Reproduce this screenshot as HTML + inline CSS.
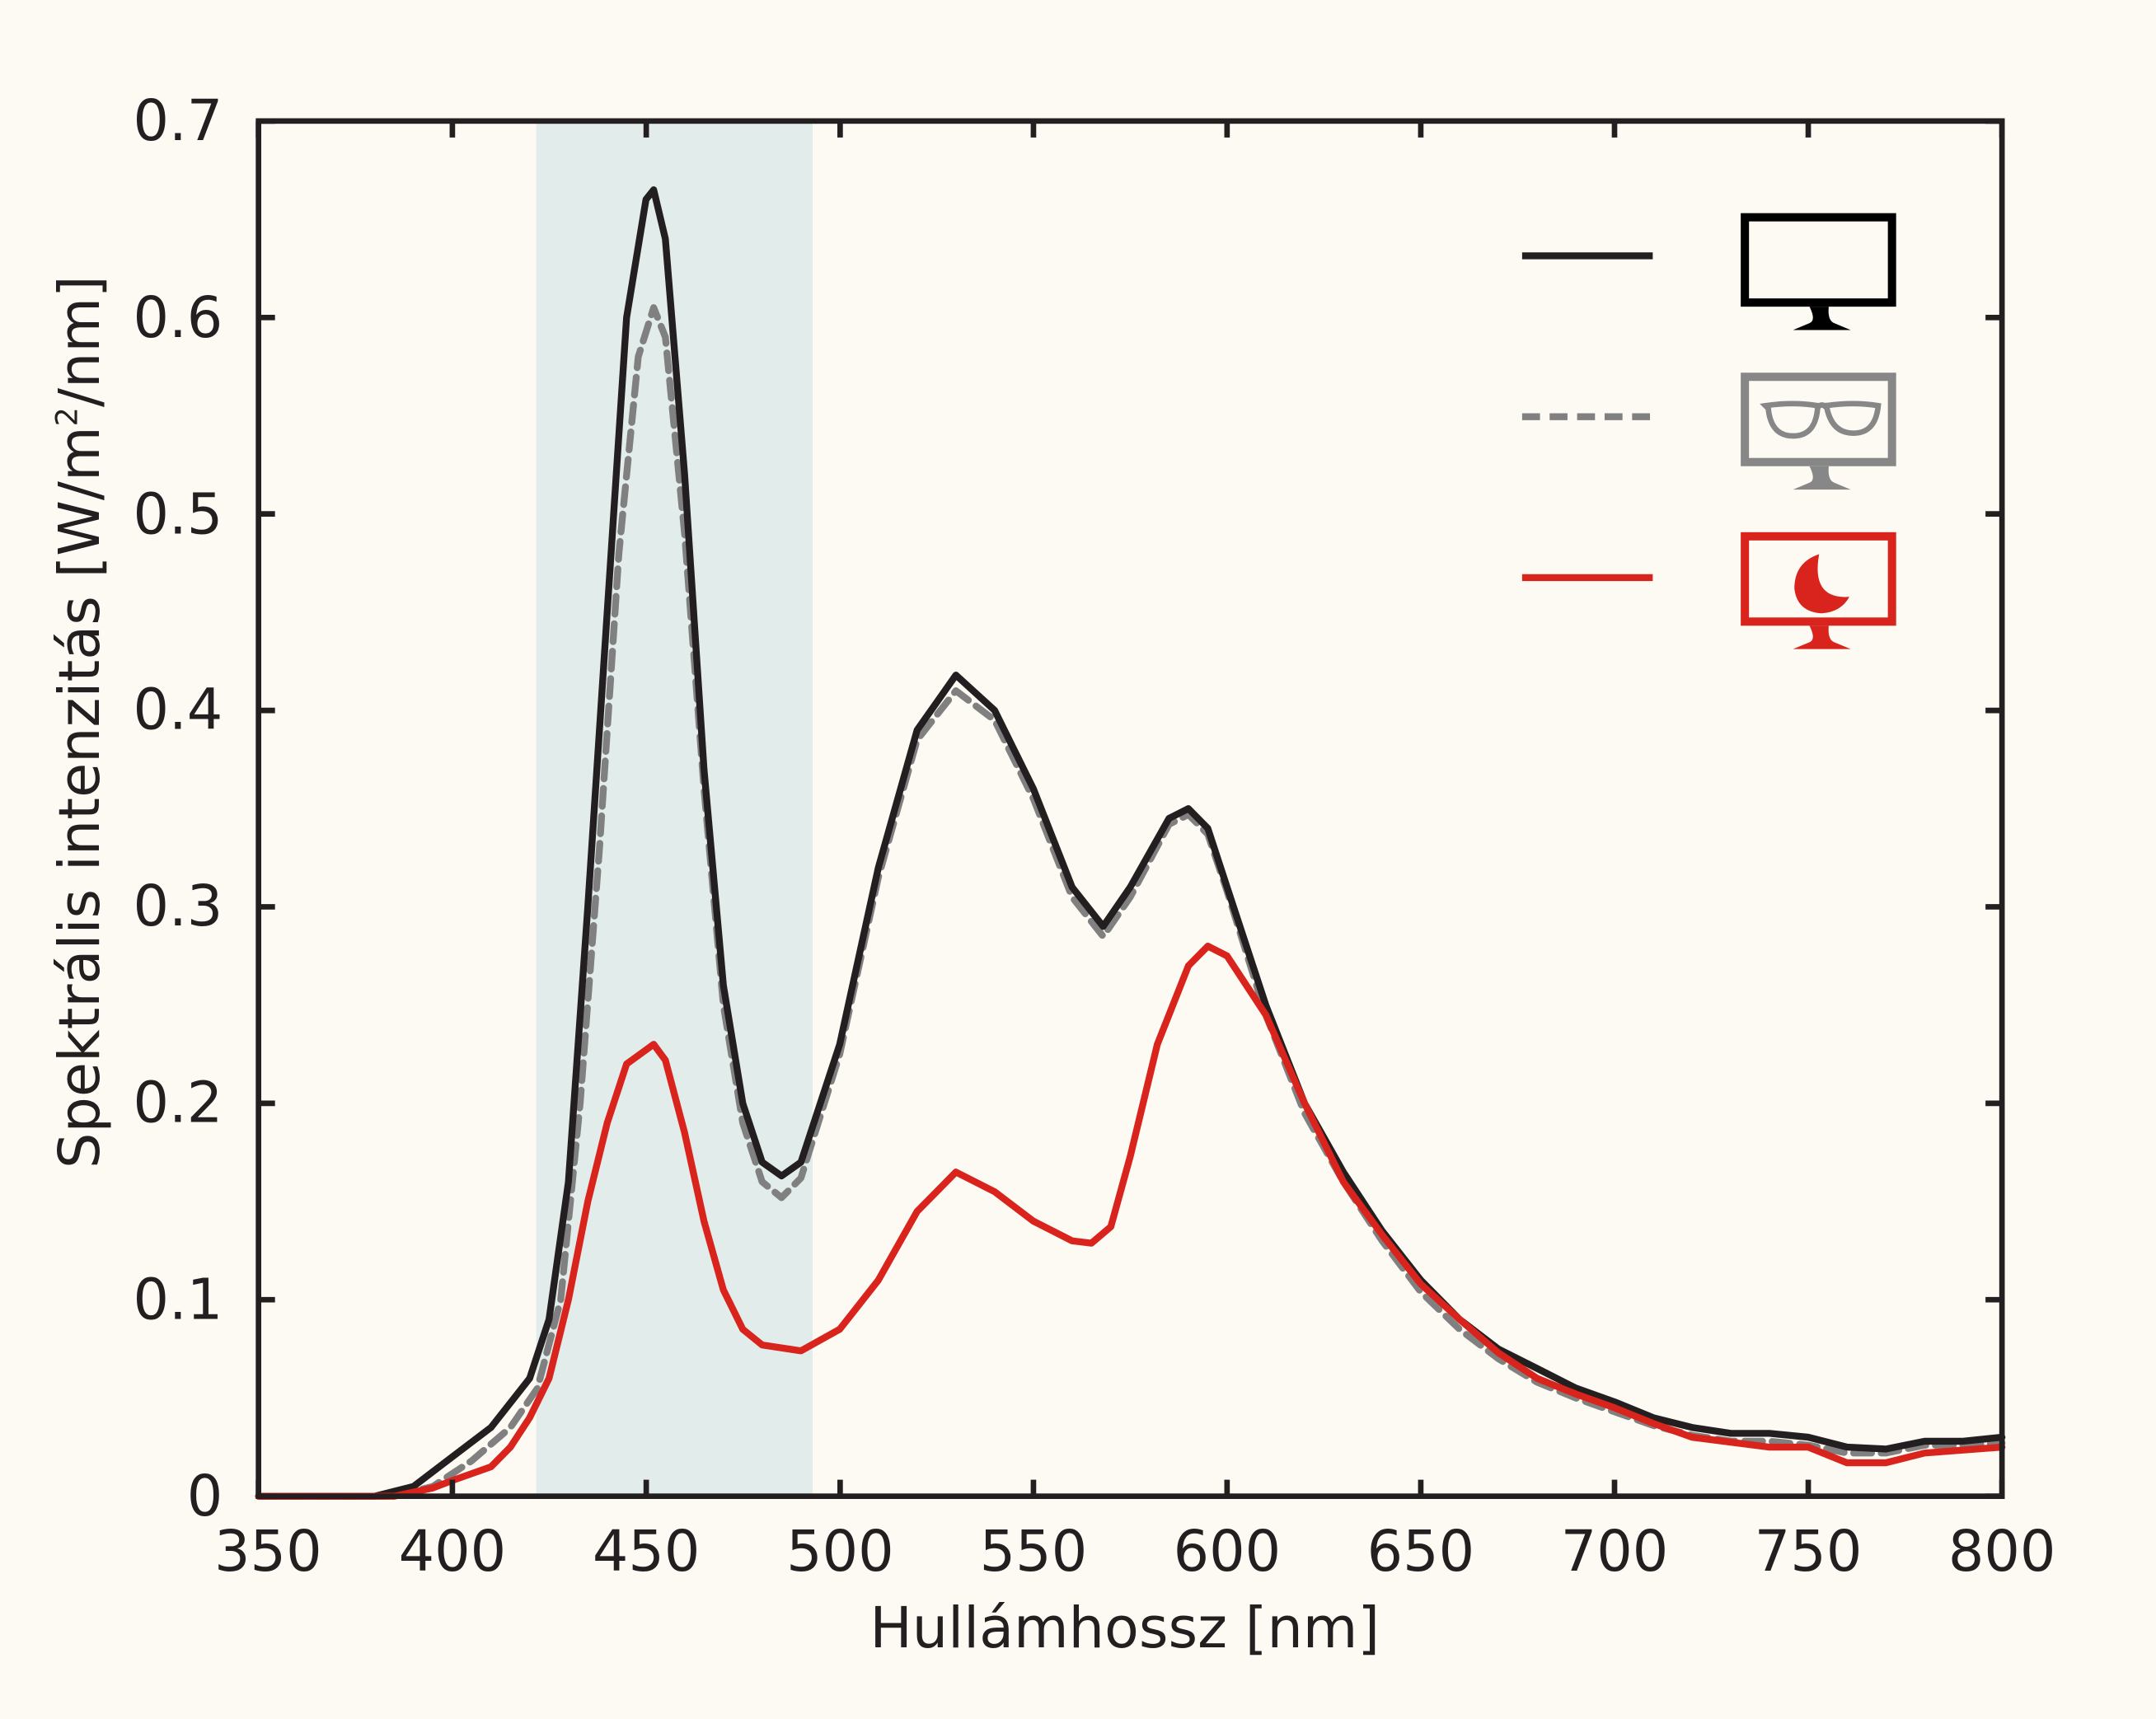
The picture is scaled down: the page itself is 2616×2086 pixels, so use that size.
<!DOCTYPE html>
<html><head><meta charset="utf-8"><style>
html,body{margin:0;padding:0;background:#fcfaf2;}
svg{display:block;}
text{font-family:"DejaVu Sans","Liberation Sans",sans-serif;fill:#231f20;}
</style></head><body>
<svg width="2616" height="2086" viewBox="0 0 1568 1250" preserveAspectRatio="none" xmlns="http://www.w3.org/2000/svg">
<rect width="1568" height="1250" fill="#fcfaf2"/>
<rect x="390" y="88" width="201" height="1000" fill="#e2edeb"/>
<g fill="none" stroke-width="5" stroke-linejoin="round" stroke-linecap="round">
<polyline stroke="#808080" stroke-dasharray="13,7" points="188,1088 286.6,1088 314.8,1080.9 343,1062.3 371.2,1038 390.9,1009.4 407.8,945.1 421.9,802.3 436,616.6 450.1,402.3 464.2,259.4 475.4,223.7 483.9,245.1 497.9,388 512,573.7 526.1,730.9 540.2,816.6 554.3,859.4 568.4,870.9 582.5,856.6 610.7,766.6 638.8,638 667,538 695.2,502.3 723.4,523.7 751.6,580.9 779.7,652.3 802.3,680.9 822,652.3 850.2,599.4 864.3,592.3 878.4,606.6 892.4,648 920.6,738 948.8,809.4 977,859.4 1005.2,902.3 1033.3,939.4 1061.5,966.6 1089.7,988 1117.9,1005.1 1146.1,1016.6 1174.2,1026.6 1202.4,1036.6 1230.6,1043.7 1258.8,1048 1287,1048 1315.1,1050.9 1343.3,1056.6 1371.5,1056.6 1399.7,1050.9 1427.8,1050.9 1456,1049.4"/>
<polyline stroke="#231f20" points="188,1088 272.5,1088 300.7,1080.9 328.9,1059.4 357.1,1038 385.2,1002.3 399.3,959.4 413.4,859.4 427.5,659.4 441.6,445.1 455.7,230.9 469.8,145.1 475.4,138 483.9,173.7 497.9,345.1 512,559.4 526.1,716.6 540.2,802.3 554.3,845.1 568.4,855.1 582.5,845.1 610.7,759.4 638.8,630.9 667,530.9 695.2,490.9 723.4,516.6 751.6,573.7 779.7,645.1 802.3,673.7 822,645.1 850.2,595.1 864.3,588 878.4,602.3 892.4,645.1 920.6,730.9 948.8,802.3 977,852.3 1005.2,895.1 1033.3,930.9 1061.5,959.4 1089.7,980.9 1117.9,995.1 1146.1,1009.4 1174.2,1019.4 1202.4,1030.9 1230.6,1038 1258.8,1042.3 1287,1042.3 1315.1,1045.1 1343.3,1052.3 1371.5,1053.7 1399.7,1048 1427.8,1048 1456,1045.1"/>
<polyline stroke="#d9231d" points="188,1088 286.6,1088 314.8,1082 328.9,1076.6 357.1,1066.6 371.2,1052.3 385.2,1030.9 399.3,1002.3 413.4,945.1 427.5,873.7 441.6,816.6 455.7,773.7 475.4,759.4 483.9,770.9 497.9,823.7 512,888 526.1,938 540.2,966.6 554.3,978 582.5,982.3 610.7,966.6 638.8,930.9 667,880.9 695.2,852.3 723.4,866.6 751.6,888 779.7,902.3 793.8,904 807.9,892 822,840.9 841.7,759.4 864.3,702.3 878.4,688 892.4,695.1 920.6,738 948.8,802.3 977,859.4 1005.2,898 1033.3,933.7 1061.5,959.4 1089.7,983.7 1117.9,1002.3 1146.1,1013.7 1174.2,1023.7 1202.4,1035.1 1230.6,1045.1 1287,1052.3 1315.1,1052.3 1343.3,1063.7 1371.5,1063.7 1399.7,1056.6 1456,1052.3"/>
</g>
<rect x="188" y="88" width="1268" height="1000" fill="none" stroke="#231f20" stroke-width="4"/>
<g stroke="#231f20" stroke-width="4">
<path d="M188,1088v-12M188,88v12M329,1088v-12M329,88v12M470,1088v-12M470,88v12M611,1088v-12M611,88v12M751.6,1088v-12M751.6,88v12M892.4,1088v-12M892.4,88v12M1033.3,1088v-12M1033.3,88v12M1174.2,1088v-12M1174.2,88v12M1315.1,1088v-12M1315.1,88v12M1456,1088v-12M1456,88v12"/>
<path d="M188,1088h12M1456,1088h-12M188,945.1h12M1456,945.1h-12M188,802.3h12M1456,802.3h-12M188,659.4h12M1456,659.4h-12M188,516.6h12M1456,516.6h-12M188,373.7h12M1456,373.7h-12M188,230.9h12M1456,230.9h-12M188,88h12M1456,88h-12"/>
</g>
<g font-size="41" text-anchor="middle">
<text x="195" y="1142">350</text><text x="329" y="1142">400</text><text x="470" y="1142">450</text><text x="611" y="1142">500</text><text x="751.6" y="1142">550</text><text x="892.4" y="1142">600</text><text x="1033.3" y="1142">650</text><text x="1174.2" y="1142">700</text><text x="1315.1" y="1142">750</text><text x="1456" y="1142">800</text>
</g>
<g font-size="41" text-anchor="end">
<text x="162" y="1102">0</text><text x="162" y="959">0.1</text><text x="162" y="816">0.2</text><text x="162" y="673">0.3</text><text x="162" y="530">0.4</text><text x="162" y="388">0.5</text><text x="162" y="245">0.6</text><text x="162" y="102">0.7</text>
</g>
<text x="818" y="1198" font-size="41" text-anchor="middle">Hullámhossz [nm]</text>
<text transform="translate(72,525) rotate(-90)" font-size="41" text-anchor="middle">Spektrális intenzitás [W/m<tspan font-size="22" dy="-16">2</tspan><tspan dy="16">/nm]</tspan></text>
<line x1="1107" y1="186" x2="1202" y2="186" stroke="#231f20" stroke-width="5"/>
<line x1="1107" y1="303" x2="1202" y2="303" stroke="#808080" stroke-width="5" stroke-dasharray="13,7"/>
<line x1="1107" y1="420" x2="1202" y2="420" stroke="#d9231d" stroke-width="5"/>
<rect x="1269" y="158" width="107" height="62" fill="none" stroke="#000" stroke-width="6"/>
<path d="M1316,223 h14 q-1,10 4,12 l12,5 h-42 l12,-5 q5,-2 0,-12z" fill="#000"/>
<rect x="1269" y="274" width="107" height="62" fill="none" stroke="#878787" stroke-width="6"/>
<path d="M1316,339 h14 q-1,10 4,12 l12,5 h-42 l12,-5 q5,-2 0,-12z" fill="#878787"/>
<g fill="none" stroke="#878787" stroke-width="4">
<path d="M1284,295 q20,-3 38,0 q-1,22 -18,22 q-16,0 -18,-20z"/>
<path d="M1328,295 q20,-3 38,0 q-2,20 -18,20 q-17,0 -20,-22z"/>
<path d="M1322,296 q3,-3 6,0"/>
</g>
<rect x="1269" y="390" width="107" height="62" fill="none" stroke="#d9231d" stroke-width="6"/>
<path d="M1316,455 h14 q-1,10 4,12 l12,5 h-42 l12,-5 q5,-2 0,-12z" fill="#d9231d"/>
<path d="M1323,403 q-18,6 -18,25 q2,17 20,18 q14,-1 20,-12 q-28,2 -22,-31z" fill="#d9231d"/>
</svg>
</body></html>
